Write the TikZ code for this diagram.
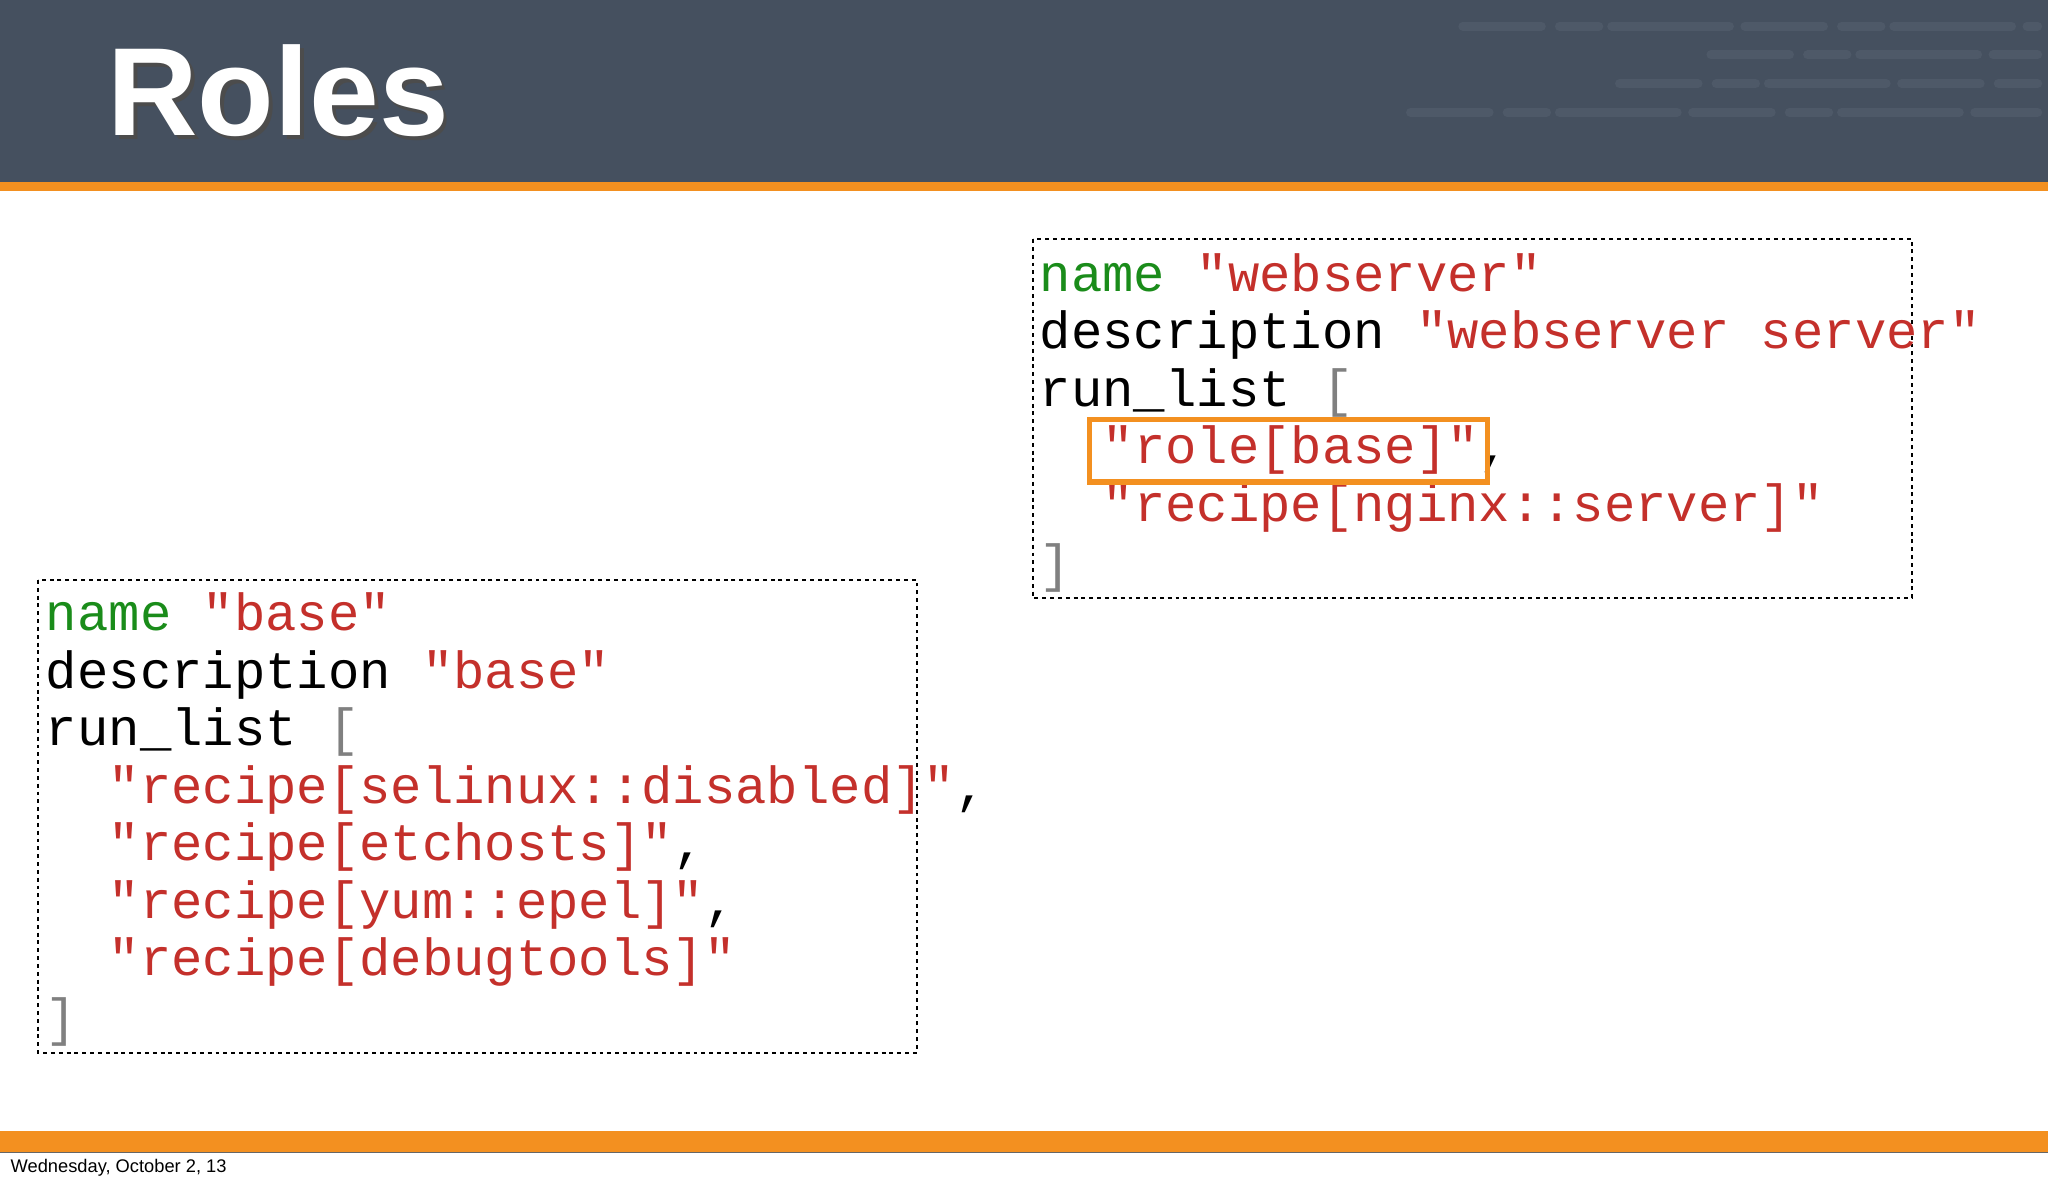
\documentclass[tikz,border=0pt]{standalone}
\usepackage{fontspec}
\setmainfont{Liberation Sans}
\newfontfamily\codefont{Liberation Mono}
\definecolor{hdr}{HTML}{45505F}
\definecolor{stripe}{HTML}{4E5968}
\definecolor{org}{HTML}{F39020}
\definecolor{kw}{HTML}{1A8C1A}
\definecolor{str}{HTML}{C4302B}
\definecolor{brk}{HTML}{808080}
\tikzset{
  code/.style={anchor=base west, inner sep=0pt, font=\codefont\fontsize{40}{44}\selectfont},
  dbox/.style={draw=black, line width=1.6pt, dash pattern=on 3pt off 3pt},
  hl/.style={draw=org, line width=4pt},
  bar/.style={stripe, line width=7pt, line cap=round}
}
\begin{document}
\begin{tikzpicture}[x=1pt,y=-1pt]
\useasboundingbox (0,0) rectangle (1568,906);
\fill[white] (0,0) rectangle (1568,906);
\fill[hdr] (0,0) rectangle (1568,139);
\fill[org] (0,139) rectangle (1568,146);
\foreach \y/\a/\b in {20/1120/1560, 42/1310/1560, 64/1240/1560, 86/1080/1560}{
  \draw[bar, dash pattern=on 60pt off 14pt on 30pt off 10pt on 90pt off 12pt] (\a,\y) -- (\b,\y);}
\node[anchor=base west, inner sep=0pt, text=black!70, font=\bfseries\fontsize{96}{100}\selectfont] at (85,107) {Roles};
\node (title) [anchor=base west, inner sep=0pt, text=white, font=\bfseries\fontsize{96}{100}\selectfont] at (82,104) {Roles};
\fill[org] (0,866) rectangle (1568,882);
\draw[black!60] (0,882) -- (1568,882);
\node (foot) [anchor=base west, inner sep=0pt, font=\fontsize{14}{16}\selectfont] at (8,898) {Wednesday, October 2, 13};

% left box
\draw[dbox] (29,444) rectangle (702,806);
\node (l1) [code] at (35,483) {\textcolor{kw}{name} \textcolor{str}{"base"}};
\node (l2) [code] at (35,527) {description \textcolor{str}{"base"}};
\node (l3) [code] at (35,571) {run\_list \textcolor{brk}{[}};
\node (l4) [code] at (35,615) {\ \ \textcolor{str}{"recipe[selinux::disabled]"},};
\node (l5) [code] at (35,659) {\ \ \textcolor{str}{"recipe[etchosts]"},};
\node (l6) [code] at (35,703) {\ \ \textcolor{str}{"recipe[yum::epel]"},};
\node (l7) [code] at (35,747) {\ \ \textcolor{str}{"recipe[debugtools]"}};
\node (l8) [code] at (35,793) {\textcolor{brk}{]}};

% right box
\draw[dbox] (791,183) rectangle (1464,458);
\node (r1) [code] at (796,223) {\textcolor{kw}{name} \textcolor{str}{"webserver"}};
\node (r2) [code] at (796,267) {description \textcolor{str}{"webserver server"}};
\node (r3) [code] at (796,311) {run\_list \textcolor{brk}{[}};
\node (r4) [code] at (796,355) {\ \ \textcolor{str}{"role[base]"},};
\node (r5) [code] at (796,399) {\ \ \textcolor{str}{"recipe[nginx::server]"}};
\node (r6) [code] at (796,445) {\textcolor{brk}{]}};
\draw[hl] (834,321) rectangle (1139,369);
\end{tikzpicture}
\end{document}
